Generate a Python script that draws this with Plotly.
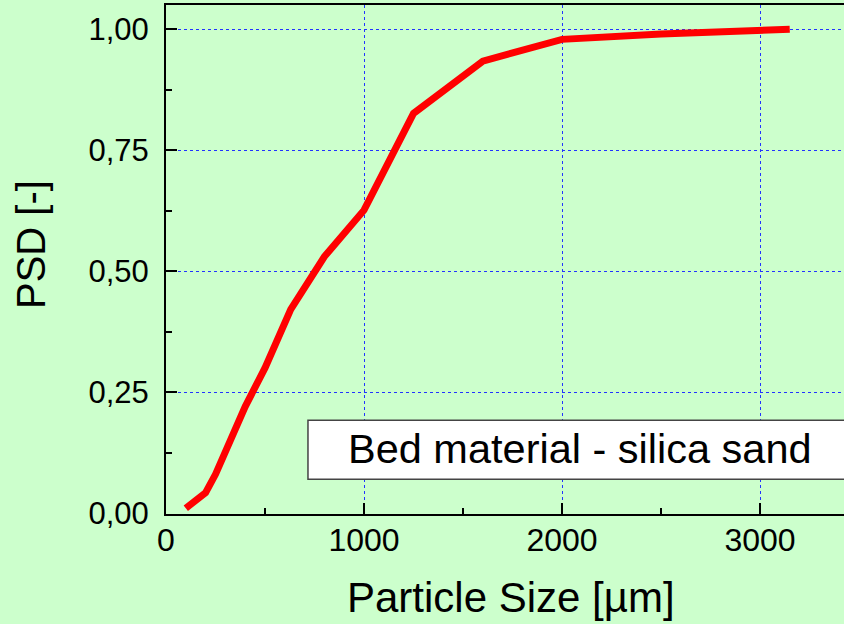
import plotly.graph_objects as go

particle_size = [100, 125, 160, 200, 250, 315, 400, 500, 630, 800, 1000, 1250, 1600, 2000, 2500, 3150]
psd = [0.01, 0.018, 0.028, 0.042, 0.08, 0.14, 0.22, 0.30, 0.421, 0.53, 0.626, 0.826, 0.934, 0.979, 0.99, 1.0]

x_tickvals = [0, 1000, 2000, 3000]
x_ticktext = ["0", "1000", "2000", "3000"]
y_tickvals = [0, 0.25, 0.5, 0.75, 1.0]
y_ticktext = ["0,00", "0,25", "0,50", "0,75", "1,00"]

label_text = "Bed material - silica sand"
x_title = "Particle Size [µm]"
y_title = "PSD [-]"

bg = "#CCFFCC"
font_family = "Liberation Sans, Arial, sans-serif"

fig = go.Figure()
fig.add_trace(go.Scatter(x=particle_size, y=psd, mode="lines",
                         line=dict(color="#FF0000", width=7), showlegend=False))

fig.update_layout(
    width=844, height=624,
    margin=dict(l=166, r=0, t=5, b=110),
    paper_bgcolor=bg, plot_bgcolor=bg,
    font=dict(family=font_family, color="black"),
    showlegend=False,
)

fig.update_xaxes(
    range=[0, 3424], showline=True, linecolor="black", linewidth=2, mirror=True,
    ticks="inside", ticklen=11, tickwidth=2, tickcolor="black",
    tickvals=x_tickvals, ticktext=x_ticktext, tickfont=dict(size=32),
    ticklabelstandoff=-3,
    showgrid=True, gridcolor="#2233FF", griddash="dot", gridwidth=1,
    zeroline=False,
    minor=dict(ticks="inside", ticklen=6, tickwidth=2, tickcolor="black", dtick=500, showgrid=False),
)
fig.update_yaxes(
    range=[-0.002, 1.05], showline=True, linecolor="black", linewidth=2,
    ticks="inside", ticklen=11, tickwidth=2, tickcolor="black",
    tickvals=y_tickvals, ticktext=y_ticktext, tickfont=dict(size=31),
    ticklabelstandoff=9,
    showgrid=True, gridcolor="#2233FF", griddash="dot", gridwidth=1,
    zeroline=False,
    minor=dict(ticks="inside", ticklen=6, tickwidth=2, tickcolor="black", dtick=0.125, showgrid=False),
)

# label box
fig.add_shape(type="rect", xref="x", yref="y", x0=717, x1=3600, y0=0.070, y1=0.192,
              fillcolor="white", line=dict(color="#444444", width=1.5), layer="above")
fig.add_annotation(x=2091, y=0.133, xref="x", yref="y", text=label_text, showarrow=False,
                   font=dict(size=41.5, color="black"), xanchor="center", yanchor="middle")

# axis titles (positions given in pixels, converted to paper coords below)
fig.add_annotation(x=511, y=597, xref="paper", yref="paper", text=x_title, showarrow=False,
                   font=dict(size=42, color="black"), xanchor="center", yanchor="middle")
fig.add_annotation(x=31, y=245, xref="paper", yref="paper", text=y_title, showarrow=False,
                   textangle=-90, font=dict(size=40, color="black"), xanchor="center", yanchor="middle")

pw, ph = 844 - 166 - 0, 624 - 5 - 110
for ann in fig.layout.annotations[1:]:
    ann.x = (ann.x - 166) / pw
    ann.y = (624 - 110 - ann.y) / ph

fig.write_html("out.html")
